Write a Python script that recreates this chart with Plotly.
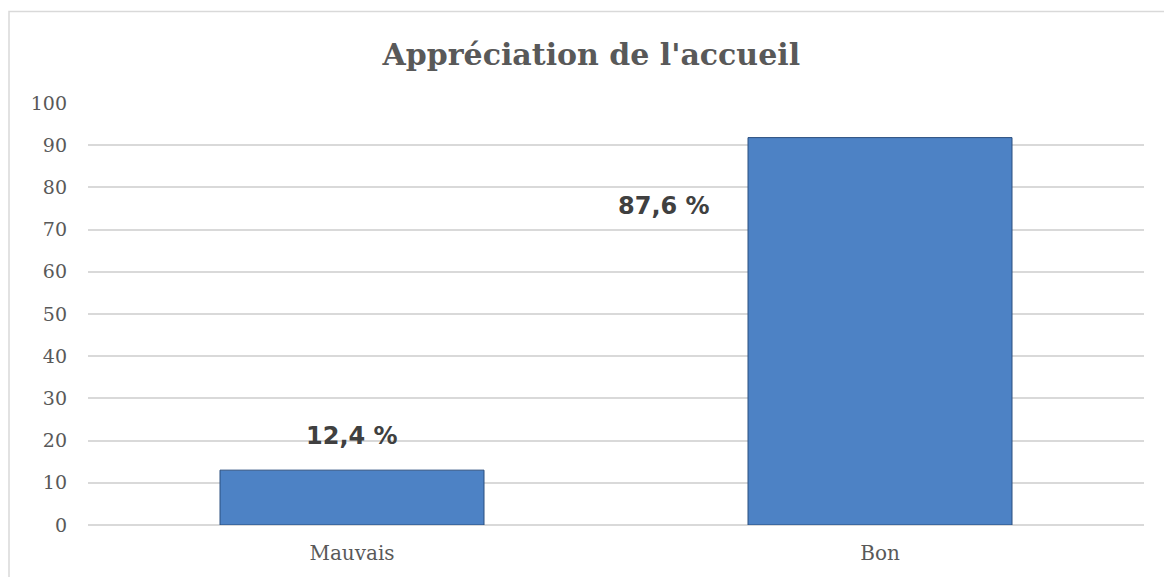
import plotly.graph_objects as go

categories = ["Mauvais", "Bon"]
bar_values = [13.0, 91.8]
label_texts = ["12,4 %", "87,6 %"]
label_x = [0.0, 0.59]
label_y = [21.1, 75.6]
y_ticks = list(range(0, 101, 10))

fig = go.Figure()
fig.add_trace(go.Bar(
    x=categories, y=bar_values,
    marker=dict(color="#4D82C5", line=dict(color="#2B4F7E", width=1)),
    hoverinfo="skip",
))

for t, xv, yv in zip(label_texts, label_x, label_y):
    fig.add_annotation(x=xv, y=yv, xref="x", yref="y", text=f"<b>{t}</b>",
                       showarrow=False,
                       font=dict(family="DejaVu Sans", size=24, color="#404040"))

fig.add_shape(type="rect", xref="paper", yref="paper",
              x0=-0.0748, x1=1.2, y0=-0.3, y1=1.217,
              line=dict(color="#D9D9D9", width=1.5), fillcolor="rgba(0,0,0,0)", layer="below")

fig.update_layout(
    width=1164, height=577,
    margin=dict(l=88, r=20, t=103, b=50),
    paper_bgcolor="white", plot_bgcolor="white",
    bargap=0.5,
    showlegend=False,
    title=dict(text="<b>Appréciation de l'accueil</b>", x=0.508, xanchor="center",
               y=0.905, yanchor="middle",
               font=dict(family="DejaVu Serif", size=30, color="#595959")),
    xaxis=dict(showgrid=False, showline=False, zeroline=False, ticks="",
               tickfont=dict(family="DejaVu Serif", size=20, color="#595959"),
               ticklabelstandoff=14),
    yaxis=dict(range=[0, 100], tickvals=y_ticks, showgrid=True, gridcolor="#D9D9D9",
               gridwidth=1.5, zeroline=True, zerolinecolor="#D9D9D9", zerolinewidth=1.5,
               showline=False, ticks="",
               tickfont=dict(family="DejaVu Serif", size=19, color="#595959"),
               ticklabelstandoff=20),
)

fig.write_html("out.html", config={"displayModeBar": False},
               post_script="document.body.style.margin='0px';document.body.style.overflow='hidden';")
